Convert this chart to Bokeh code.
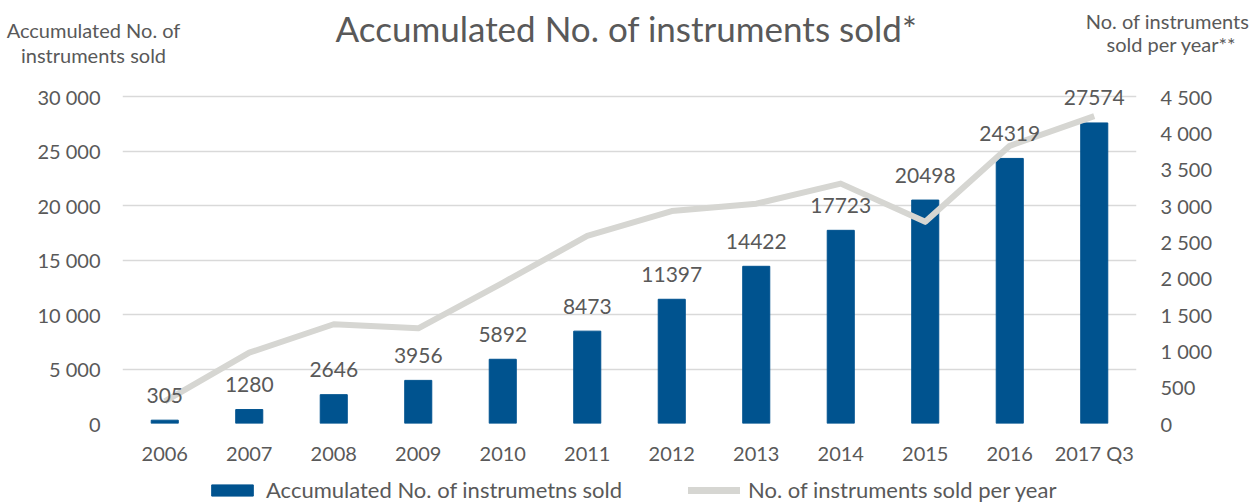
from bokeh.plotting import figure
from bokeh.layouts import column
from bokeh.models import (ColumnDataSource, FactorRange, Range1d, LinearAxis,
                          Legend, LegendItem, CustomJSTickFormatter, FixedTicker)
from bokeh.core.properties import value
from bokeh.embed import file_html
from bokeh.resources import INLINE

years = ["2006", "2007", "2008", "2009", "2010", "2011", "2012", "2013", "2014", "2015", "2016", "2017 Q3"]
accumulated = [305, 1280, 2646, 3956, 5892, 8473, 11397, 14422, 17723, 20498, 24319, 27574]
per_year = [305, 975, 1366, 1310, 1936, 2581, 2924, 3025, 3301, 2775, 3821, 4230]
left_ticks = [0, 5000, 10000, 15000, 20000, 25000, 30000]
right_ticks = [0, 500, 1000, 1500, 2000, 2500, 3000, 3500, 4000, 4500]

title = "Accumulated No. of instruments sold*"
left_title = ["Accumulated No. of", "instruments sold"]
right_title = ["No. of instruments", "sold per year**"]
legend_labels = ["Accumulated No. of instrumetns sold", "No. of instruments sold per year"]

FONT = "Lato"
TXT = "#595959"
BAR = "#00538F"
LINE = "#D6D6D2"
GRID = "#D9D9D9"

W = 1256
HEAD_H = 83
FRAME_H = 340
BOTTOM = 46
FOOT_H = 33
LEFT_MAX = 30000
RIGHT_MAX = 4500
Y_END = FRAME_H * LEFT_MAX / 327.0
R_END = Y_END * RIGHT_MAX / LEFT_MAX

# ---------- header (title and axis titles) ----------
head = figure(width=W, height=HEAD_H, x_range=Range1d(0, W), y_range=Range1d(0, HEAD_H),
              output_backend="svg", toolbar_location=None, min_border=0)
head.frame_align = False
head.axis.visible = False
head.grid.visible = False
head.outline_line_color = None
hsrc = ColumnDataSource(dict(
    x=[626, 93, 93, 1167, 1171],
    y=[HEAD_H - 27, HEAD_H - 29, HEAD_H - 54, HEAD_H - 20, HEAD_H - 43],
    t=[title, left_title[0], left_title[1], right_title[0], right_title[1]],
    s=["35px", "20px", "20px", "20px", "20px"]))
head.text(x="x", y="y", text="t", text_font_size="s", source=hsrc, text_align="center",
          text_baseline="middle", text_font=value(FONT), text_color=TXT)

# ---------- main chart ----------
src = ColumnDataSource(dict(x=years, acc=accumulated, py=per_year,
                            lbl=[str(v) for v in accumulated]))

p = figure(width=W, height=FRAME_H + BOTTOM, x_range=FactorRange(factors=years, range_padding=0),
           y_range=Range1d(0, Y_END), output_backend="svg", toolbar_location=None,
           min_border_left=122, min_border_right=120, min_border_top=0, min_border_bottom=BOTTOM)
p.frame_align = False
p.extra_y_ranges = {"right": Range1d(0, R_END)}
p.outline_line_color = None

fmt = CustomJSTickFormatter(code=r"return tick.toString().replace(/\B(?=(\d{3})+(?!\d))/g, ' ');")

p.vbar(x="x", top="acc", width=0.32, color=BAR, source=src)
p.line(x="x", y="py", y_range_name="right", line_color=LINE, line_width=6,
       line_join="round", source=src)
p.text(x="x", y="acc", text="lbl", source=src, text_align="center", text_baseline="middle",
       y_offset=-25, text_font=value(FONT), text_font_size="21px", text_color=TXT)

la = p.yaxis[0]
la.ticker = FixedTicker(ticks=left_ticks)
la.formatter = fmt
ra = LinearAxis(y_range_name="right", ticker=FixedTicker(ticks=right_ticks), formatter=fmt)
p.add_layout(ra, "right")
for ax in (la, ra):
    ax.axis_line_color = None
    ax.major_tick_line_color = None
    ax.minor_tick_line_color = None
    ax.major_tick_out = 0
    ax.major_label_text_font = FONT
    ax.major_label_text_font_size = "20px"
    ax.major_label_text_color = TXT
la.major_label_standoff = 22
ra.major_label_standoff = 24

xa = p.xaxis[0]
xa.axis_line_color = None
xa.major_tick_line_color = None
xa.major_tick_out = 0
xa.major_label_text_font = FONT
xa.major_label_text_font_size = "20px"
xa.major_label_text_color = TXT
xa.major_label_standoff = 17

p.xgrid.grid_line_color = None
p.ygrid.grid_line_color = GRID
p.ygrid.grid_line_width = 1.5
p.ygrid.ticker = FixedTicker(ticks=left_ticks)

# ---------- footer (legend) ----------
foot = figure(width=W, height=FOOT_H, x_range=Range1d(0, 1), y_range=Range1d(0, 1),
              output_backend="svg", toolbar_location=None, min_border=0)
foot.frame_align = False
foot.axis.visible = False
foot.grid.visible = False
foot.outline_line_color = None
# legend proxies, placed below the visible range
lb = foot.vbar(x=[0.5], top=[-5], bottom=[-6], width=0.3, color=BAR)
ll = foot.line(x=[0.4, 0.6], y=[-5, -5], line_color=LINE, line_width=7, line_cap="round")
legend = Legend(items=[LegendItem(label=legend_labels[0], renderers=[lb]),
                       LegendItem(label=legend_labels[1], renderers=[ll])],
                orientation="horizontal", location=(206, -1), padding=0, margin=0,
                spacing=66, glyph_width=52, glyph_height=14, label_height=10,
                label_standoff=8, border_line_color=None, background_fill_alpha=0,
                label_text_font=FONT, label_text_font_size="22px", label_text_color=TXT)
foot.add_layout(legend, "center")

layout = column(head, p, foot, spacing=0)
open("out.html", "w").write(file_html(layout, INLINE))
